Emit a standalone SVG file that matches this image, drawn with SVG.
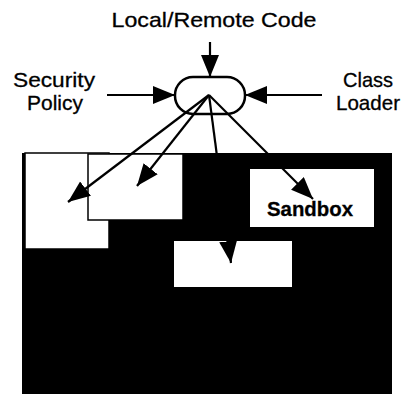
<svg xmlns="http://www.w3.org/2000/svg" width="412" height="395" viewBox="0 0 412 395">
<defs>
<marker id="ah" markerUnits="userSpaceOnUse" markerWidth="24" markerHeight="19" refX="22" refY="9" orient="auto">
<path d="M0,0 L22,9 L0,18 Z" fill="#000"/>
</marker>
<style>
.lbl{font-family:"Liberation Sans",Arial,sans-serif;font-size:21px;fill:#000;text-anchor:middle;stroke:#000;stroke-width:0.3}
.box{fill:#fff;stroke:#000;stroke-width:1.5}
.con{stroke:#000;stroke-width:2.2;fill:none;marker-end:url(#ah)}
</style>
</defs>
<rect width="412" height="395" fill="#fff"/>
<g id="system">
<rect x="22" y="153" width="370" height="241" fill="#000"/>
</g>
<g id="box1"><rect class="box" x="25" y="153" width="84" height="96"/></g>
<g id="box2"><rect class="box" x="88" y="154" width="95" height="66"/></g>
<g id="sandbox"><rect x="250" y="169" width="124" height="58" fill="#fff"/>
<text class="lbl" x="310" y="216" font-weight="bold" font-size="20" textLength="86" lengthAdjust="spacingAndGlyphs">Sandbox</text></g>
<g id="box4"><rect x="174" y="241" width="118" height="46" fill="#fff"/></g>
<g id="title"><text class="lbl" x="214" y="27" textLength="205" lengthAdjust="spacingAndGlyphs">Local/Remote Code</text></g>
<g id="security"><text class="lbl" x="54" y="87" textLength="82" lengthAdjust="spacingAndGlyphs">Security</text>
<text class="lbl" x="55" y="110" textLength="56" lengthAdjust="spacingAndGlyphs">Policy</text></g>
<g id="classloader"><text class="lbl" x="368" y="87" textLength="50" lengthAdjust="spacingAndGlyphs">Class</text>
<text class="lbl" x="368" y="110" textLength="64" lengthAdjust="spacingAndGlyphs">Loader</text></g>
<g id="verifier"><rect x="175" y="77" width="70" height="37" rx="18" ry="18" fill="#fff" stroke="#000" stroke-width="2.5"/></g>
<g id="connectors">
<line class="con" x1="210" y1="42" x2="210" y2="77"/>
<line class="con" x1="107" y1="95" x2="175" y2="95"/>
<line class="con" x1="322" y1="95" x2="245" y2="95"/>
<line class="con" x1="209" y1="95" x2="68" y2="202"/>
<line class="con" x1="209" y1="95" x2="137" y2="186"/>
<line class="con" x1="209" y1="95" x2="231" y2="263"/>
<line class="con" x1="209" y1="95" x2="313" y2="199"/>
</g>
</svg>
